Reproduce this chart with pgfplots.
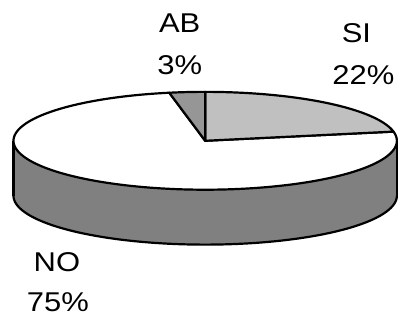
\documentclass[border=0pt]{standalone}
\usepackage{graphicx}
\usepackage{pgfplots}
\pgfplotsset{compat=1.18}
\usepackage{fontspec}
\setmainfont{Liberation Sans}
\definecolor{siC}{HTML}{C0C0C0}
\definecolor{abC}{HTML}{969696}
\definecolor{sideC}{HTML}{808080}
% pie data (percent)
\def\vSI{22}\def\vAB{3}\def\vNO{75}
% geometry (pixel units of the picture)
\def\cx{205.5}\def\cy{141}\def\ra{192}\def\rb{49}\def\hh{55}
\begin{document}
\begin{tikzpicture}
\pgfmathsetmacro{\tA}{90-3.6*\vSI}
\pgfmathsetmacro{\tB}{90+3.6*\vAB}
\pgfmathsetmacro{\tC}{\tB+3.6*\vNO}
\pgfmathsetmacro{\xL}{\cx-\ra}
\pgfmathsetmacro{\xR}{\cx+\ra}
\pgfmathsetmacro{\yB}{\cy+\hh}
\begin{axis}[width=199pt,height=160pt,scale only axis,hide axis,clip=false,
  xmin=0,xmax=398,ymin=0,ymax=320,y dir=reverse,
  every axis plot/.append style={line width=1.1pt,line join=round}]
% side of the cylinder
\addplot[fill=sideC,draw=none,domain=180:360,samples=120]
  ({\cx+\ra*cos(x)},{\cy+\hh-\rb*sin(x)}) -- (axis cs:\xR,\cy) -- (axis cs:\xL,\cy) -- cycle;
\addplot[draw=black,domain=180:360,samples=120]
  ({\cx+\ra*cos(x)},{\cy+\hh-\rb*sin(x)});
\addplot[draw=black] coordinates {(\xL,\cy) (\xL,\yB)};
\addplot[draw=black] coordinates {(\xR,\cy) (\xR,\yB)};
% top slices
\addplot[fill=white,draw=black,domain=\tB:\tC,samples=150]
  ({\cx+\ra*cos(x)},{\cy-\rb*sin(x)}) -- (axis cs:\cx,\cy) -- cycle;
\addplot[fill=siC,draw=black,domain=\tA:90,samples=60]
  ({\cx+\ra*cos(x)},{\cy-\rb*sin(x)}) -- (axis cs:\cx,\cy) -- cycle;
\addplot[fill=abC,draw=black,domain=90:\tB,samples=10]
  ({\cx+\ra*cos(x)},{\cy-\rb*sin(x)}) -- (axis cs:\cx,\cy) -- cycle;
% labels
\tikzset{lab/.style={anchor=base,inner sep=0pt,font=\fontsize{13.6}{13.6}\selectfont}}
\node[lab] at (axis cs:180,33) {\scalebox{1.14}[1]{AB}};
\node[lab] at (axis cs:180,75) {\scalebox{1.14}[1]{3\%}};
\node[lab] at (axis cs:357,43) {\scalebox{1.14}[1]{SI}};
\node[lab] at (axis cs:364,85) {\scalebox{1.14}[1]{22\%}};
\node[lab] at (axis cs:57,272) {\scalebox{1.14}[1]{NO}};
\node[lab] at (axis cs:58,312) {\scalebox{1.14}[1]{75\%}};
\path (axis cs:0,0) (axis cs:398,320);
\end{axis}
\end{tikzpicture}
\end{document}
